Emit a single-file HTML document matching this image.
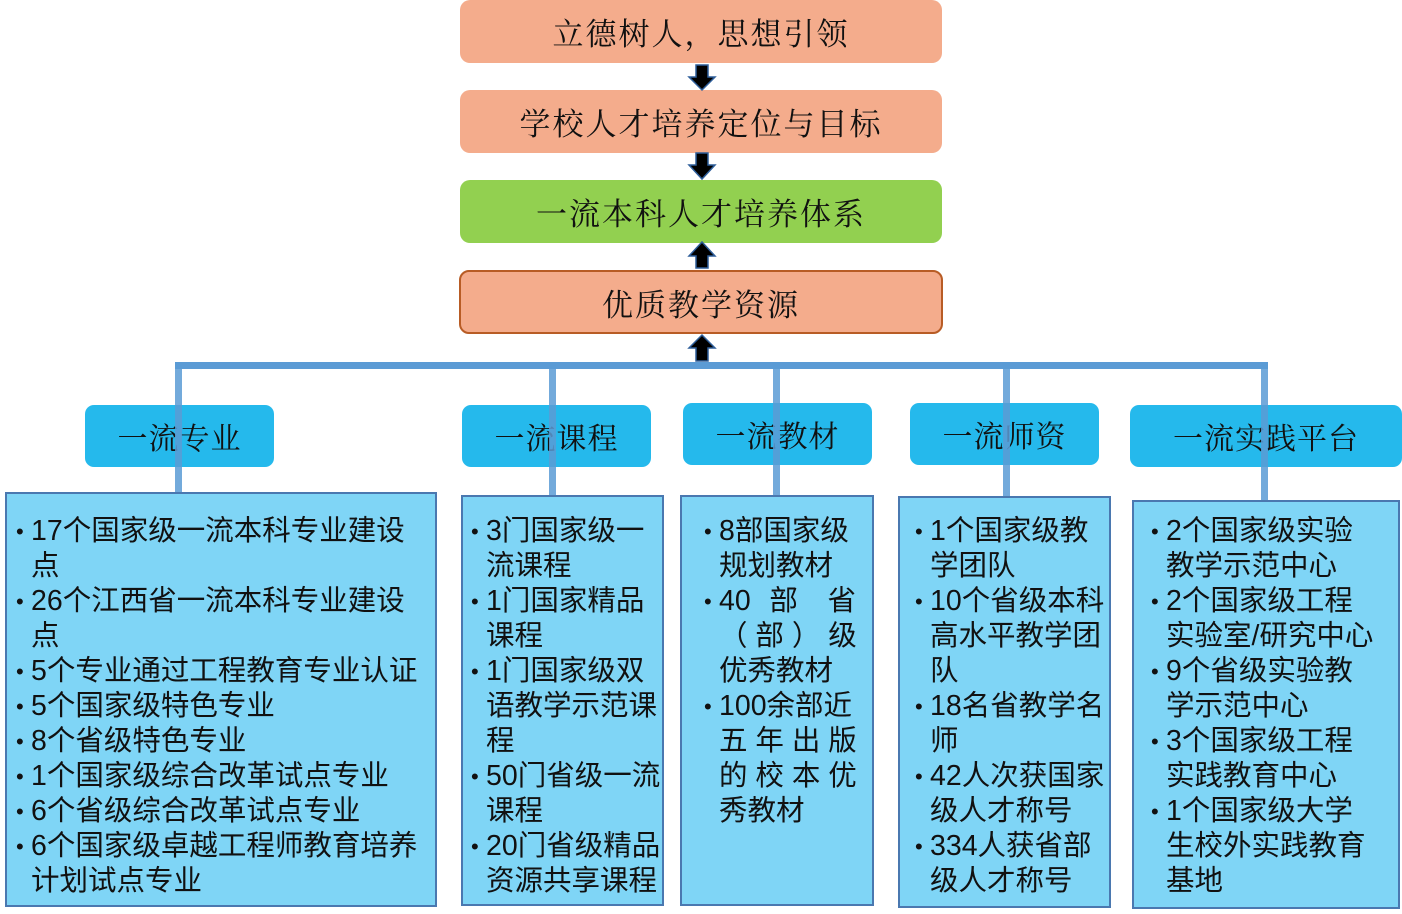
<!DOCTYPE html>
<html><head><meta charset="utf-8">
<style>
body{margin:0;width:1402px;height:914px;background:#fff;position:relative;overflow:hidden;font-family:"Liberation Sans","Noto Sans CJK SC",sans-serif;}
.a{position:absolute;box-sizing:border-box;}
.top{border-radius:10px;background:#f4ac8c;display:flex;align-items:center;justify-content:center;font-size:31px;color:#111;letter-spacing:2px;font-family:"Liberation Serif","Noto Serif CJK SC",serif;}
.hd{border-radius:9px;background:rgba(20,180,235,0.93);display:flex;align-items:center;justify-content:center;font-size:30px;color:#111;font-family:"Liberation Serif","Noto Serif CJK SC",serif;letter-spacing:1px;}
.bx{background:#7fd5f6;border:2px solid #4a78b0;}
.ln{position:absolute;background:#5b9bd5;}
.t{position:absolute;font-size:28.5px;line-height:35px;height:35px;white-space:nowrap;color:#111;}
.b:before{content:"•";position:absolute;left:-15px;font-size:22px;}
.j{text-align:justify;text-align-last:justify;}
</style></head><body>
<div class="a top" style="left:460px;top:0;width:482px;height:63px;">立德树人，思想引领</div>
<div class="a top" style="left:460px;top:90px;width:482px;height:63px;">学校人才培养定位与目标</div>
<div class="a top" style="left:460px;top:180px;width:482px;height:63px;background:#92d050;">一流本科人才培养体系</div>
<div class="a top" style="left:459px;top:270px;width:484px;height:64px;border:2px solid #b85c25;">优质教学资源</div>

<svg class="a" style="left:0;top:0" width="1402" height="914">
<g fill="#000" stroke="#2e5e9a" stroke-width="1.5">
<polygon points="696,65 708,65 708,77 715,77 702,90 689,77 696,77"/>
<polygon points="696,153 708,153 708,165 715,165 702,179 689,165 696,165"/>
<polygon points="696,268 708,268 708,256 715,256 702,242 689,256 696,256"/>
<polygon points="696,361 708,361 708,348 715,348 702,335 689,348 696,348"/>
</g></svg>

<div class="a hd" style="left:85px;top:405px;width:189px;height:62px;">一流专业</div>
<div class="a hd" style="left:462px;top:405px;width:189px;height:62px;">一流课程</div>
<div class="a hd" style="left:683px;top:403px;width:189px;height:62px;">一流教材</div>
<div class="a hd" style="left:910px;top:403px;width:189px;height:62px;">一流师资</div>
<div class="a hd" style="left:1130px;top:405px;width:272px;height:62px;">一流实践平台</div>

<div class="ln" style="left:175px;top:362px;width:1093px;height:7px;"></div>
<div class="ln" style="left:175px;top:362px;width:7px;height:131px;opacity:.85"></div>
<div class="ln" style="left:549px;top:362px;width:7px;height:134px;opacity:.85"></div>
<div class="ln" style="left:773px;top:362px;width:7px;height:134px;opacity:.85"></div>
<div class="ln" style="left:1003px;top:362px;width:7px;height:135px;opacity:.85"></div>
<div class="ln" style="left:1261px;top:362px;width:7px;height:139px;opacity:.85"></div>

<div class="a bx" style="left:5px;top:492px;width:432px;height:415px;"></div>
<div class="a bx" style="left:461px;top:495px;width:203px;height:411px;"></div>
<div class="a bx" style="left:680px;top:495px;width:194px;height:411px;"></div>
<div class="a bx" style="left:898px;top:496px;width:213px;height:412px;"></div>
<div class="a bx" style="left:1132px;top:500px;width:268px;height:409px;"></div>

<!-- col1 -->
<div class="t b" style="left:31px;top:514px;">17个国家级一流本科专业建设</div>
<div class="t" style="left:31px;top:549px;">点</div>
<div class="t b" style="left:31px;top:584px;">26个江西省一流本科专业建设</div>
<div class="t" style="left:31px;top:619px;">点</div>
<div class="t b" style="left:31px;top:654px;">5个专业通过工程教育专业认证</div>
<div class="t b" style="left:31px;top:689px;">5个国家级特色专业</div>
<div class="t b" style="left:31px;top:724px;">8个省级特色专业</div>
<div class="t b" style="left:31px;top:759px;">1个国家级综合改革试点专业</div>
<div class="t b" style="left:31px;top:794px;">6个省级综合改革试点专业</div>
<div class="t b" style="left:31px;top:829px;">6个国家级卓越工程师教育培养</div>
<div class="t" style="left:31px;top:864px;">计划试点专业</div>
<!-- col2 -->
<div class="t b" style="left:486px;top:514px;">3门国家级一</div>
<div class="t" style="left:486px;top:549px;">流课程</div>
<div class="t b" style="left:486px;top:584px;">1门国家精品</div>
<div class="t" style="left:486px;top:619px;">课程</div>
<div class="t b" style="left:486px;top:654px;">1门国家级双</div>
<div class="t" style="left:486px;top:689px;">语教学示范课</div>
<div class="t" style="left:486px;top:724px;">程</div>
<div class="t b" style="left:486px;top:759px;">50门省级一流</div>
<div class="t" style="left:486px;top:794px;">课程</div>
<div class="t b" style="left:486px;top:829px;">20门省级精品</div>
<div class="t" style="left:486px;top:864px;">资源共享课程</div>
<!-- col3 -->
<div class="t b" style="left:719px;top:514px;">8部国家级</div>
<div class="t" style="left:719px;top:549px;">规划教材</div>
<div class="t b j" style="left:719px;top:584px;width:137px;">40 部 省</div>
<div class="t j" style="left:719px;top:619px;width:137px;">（ 部 ） 级</div>
<div class="t" style="left:719px;top:654px;">优秀教材</div>
<div class="t b" style="left:719px;top:689px;">100余部近</div>
<div class="t j" style="left:719px;top:724px;width:137px;">五 年 出 版</div>
<div class="t j" style="left:719px;top:759px;width:137px;">的 校 本 优</div>
<div class="t" style="left:719px;top:794px;">秀教材</div>
<!-- col4 -->
<div class="t b" style="left:930px;top:514px;">1个国家级教</div>
<div class="t" style="left:930px;top:549px;">学团队</div>
<div class="t b" style="left:930px;top:584px;">10个省级本科</div>
<div class="t" style="left:930px;top:619px;">高水平教学团</div>
<div class="t" style="left:930px;top:654px;">队</div>
<div class="t b" style="left:930px;top:689px;">18名省教学名</div>
<div class="t" style="left:930px;top:724px;">师</div>
<div class="t b" style="left:930px;top:759px;">42人次获国家</div>
<div class="t" style="left:930px;top:794px;">级人才称号</div>
<div class="t b" style="left:930px;top:829px;">334人获省部</div>
<div class="t" style="left:930px;top:864px;">级人才称号</div>
<!-- col5 -->
<div class="t b" style="left:1166px;top:514px;">2个国家级实验</div>
<div class="t" style="left:1166px;top:549px;">教学示范中心</div>
<div class="t b" style="left:1166px;top:584px;">2个国家级工程</div>
<div class="t" style="left:1166px;top:619px;">实验室/研究中心</div>
<div class="t b" style="left:1166px;top:654px;">9个省级实验教</div>
<div class="t" style="left:1166px;top:689px;">学示范中心</div>
<div class="t b" style="left:1166px;top:724px;">3个国家级工程</div>
<div class="t" style="left:1166px;top:759px;">实践教育中心</div>
<div class="t b" style="left:1166px;top:794px;">1个国家级大学</div>
<div class="t" style="left:1166px;top:829px;">生校外实践教育</div>
<div class="t" style="left:1166px;top:864px;">基地</div>
</body></html>
